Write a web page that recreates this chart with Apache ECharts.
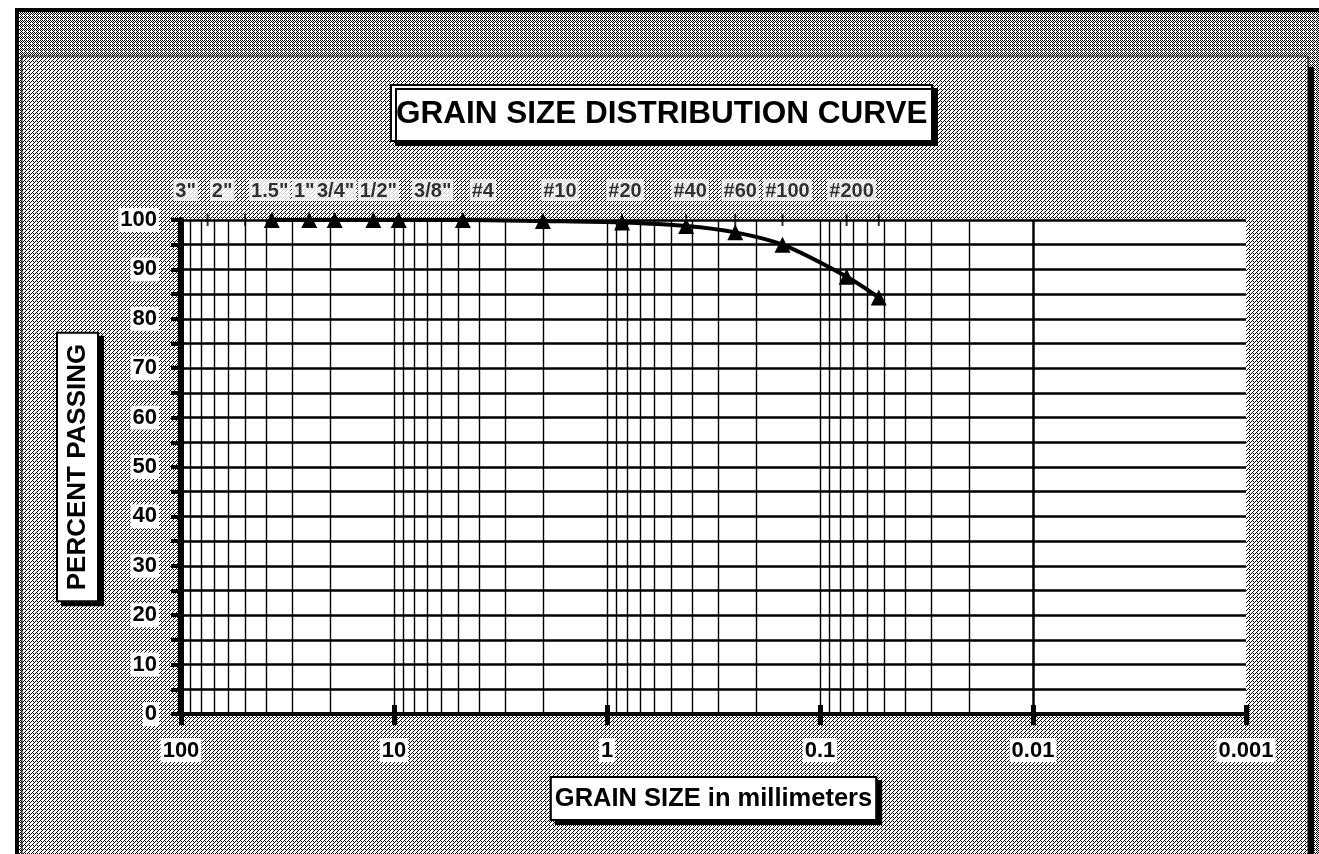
<!DOCTYPE html>
<html>
<head>
<meta charset="utf-8">
<script src="https://cdn.jsdelivr.net/npm/echarts@6/dist/echarts.min.js"></script>
<style>
html, body { margin: 0; padding: 0; background: #fff; }
#main { width: 1319px; height: 854px; }
</style>
</head>
<body>
<div id="main"></div>
<script>
// sieve openings (mm) with their names, shown along the top of the plot
var sieveNames = ['3"', '2"', '1.5"', '1"', '3/4"', '1/2"', '3/8"', '#4', '#10', '#20', '#40', '#60', '#100', '#200', ''];
var sieveSizes = [75, 50, 37.5, 25, 19, 12.5, 9.5, 4.75, 2.0, 0.85, 0.425, 0.25, 0.15, 0.075, 0.053];

// test results
var grainSizes = [37.5, 25, 19, 12.5, 9.5, 4.75, 2.0, 0.85, 0.425, 0.25, 0.15, 0.075, 0.053];
var percentPassing = [100, 100, 100, 100, 100, 100, 99.8, 99.5, 98.8, 97.5, 95.0, 88.5, 84.3];

// axis ticks
var decades = [100, 10, 1, 0.1, 0.01, 0.001];
var percentTicks = [0, 10, 20, 30, 40, 50, 60, 70, 80, 90, 100];

var FONT = '"Liberation Sans", Arial, sans-serif';

// sideways nudges so the sieve names don't run into each other
var nameShift = [-22, -23, -2, -5, 1, 5, 34, 20, 17, 3, 4, 5, 5, 5, 0];

// log paper lines: every 1..9 x 10^n
var gridValues = [100];
decades.slice(1).forEach(function (d) {
    for (var k = 1; k <= 9; k++) gridValues.push(+(k * d).toPrecision(3));
});

function dither(rows) {
    var n = rows.length;
    var c = document.createElement('canvas');
    c.width = n; c.height = n;
    var ctx = c.getContext('2d');
    ctx.fillStyle = '#fff';
    ctx.fillRect(0, 0, n, n);
    ctx.fillStyle = '#000';
    rows.forEach(function (r, y) {
        for (var x = 0; x < r.length; x++) if (r[x] === '1') ctx.fillRect(x, y, 1, 1);
    });
    return { image: c, repeat: 'repeat' };
}
var bandFill = dither(['1010', '0101', '1010', '0100']);
var panelFill = dither(['1000', '0101', '0010', '0100']);

var boxStyle = {
    fontFamily: FONT,
    fontWeight: 'bold',
    color: '#000',
    backgroundColor: '#fff',
    borderColor: '#000',
    borderWidth: 2,
    shadowColor: '#000',
    shadowBlur: 0,
    shadowOffsetX: 5,
    shadowOffsetY: 4
};

var tickLabel = {
    fontFamily: FONT,
    fontWeight: 'bold',
    fontSize: 22,
    color: '#000',
    backgroundColor: '#fff',
    padding: [2, 2, 0, 2]
};

var chartDom = document.getElementById('main');
var chart = echarts.init(chartDom);

var option = {
    animation: false,
    backgroundColor: '#fff',
    graphic: [
        { type: 'rect', z: -100, shape: { x: 17, y: 10, width: 1310, height: 850 },
          style: { fill: bandFill, stroke: '#000', lineWidth: 4 } },
        { type: 'rect', z: -99, shape: { x: 22, y: 56, width: 1286, height: 810 },
          style: { fill: panelFill, stroke: '#000', lineWidth: 1 } },
        { type: 'rect', z: -98, shape: { x: 1308, y: 67, width: 6, height: 800 },
          style: { fill: '#000' } }
    ],
    title: {
        text: 'GRAIN SIZE DISTRIBUTION CURVE',
        left: 391,
        top: 85,
        padding: [13, 5, 11, 5],
        backgroundColor: '#fff',
        borderColor: '#000',
        borderWidth: 2,
        shadowColor: '#000',
        shadowBlur: 0,
        shadowOffsetX: 5,
        shadowOffsetY: 4,
        textStyle: { fontFamily: FONT, fontWeight: 'bold', fontSize: 31.5, color: '#000' }
    },
    grid: {
        left: 181,
        right: 73,
        top: 220,
        bottom: 140,
        show: true,
        backgroundColor: '#fff',
        borderWidth: 0
    },
    xAxis: [{
        type: 'log',
        logBase: 10,
        min: 0.001,
        max: 100,
        inverse: true,
        position: 'bottom',
        axisLine: { show: true, onZero: false, lineStyle: { color: '#000', width: 4 } },
        axisTick: { show: true, length: 11, lineStyle: { color: '#000', width: 5 } },
        splitLine: { show: false },
        axisLabel: Object.assign({ margin: 24, formatter: function (v) {
            var i = decades.indexOf(+v.toPrecision(3));
            return i < 0 ? '' : String(decades[i]);
        } }, tickLabel),
        name: 'GRAIN SIZE in millimeters',
        nameLocation: 'middle',
        nameGap: 64,
        nameTextStyle: Object.assign({ fontSize: 25.5, padding: [8, 3, 7, 3] }, boxStyle)
    }, {
        type: 'log',
        logBase: 10,
        min: 0.001,
        max: 100,
        inverse: true,
        position: 'bottom',
        axisLine: { show: false },
        axisTick: { show: true, inside: true, length: 9, lineStyle: { color: '#000', width: 5 } },
        axisLabel: { show: false },
        splitLine: { show: false }
    }],
    yAxis: {
        type: 'value',
        min: percentTicks[0],
        max: percentTicks[percentTicks.length - 1],
        interval: 10,
        axisLine: { show: true, lineStyle: { color: '#000', width: 6 } },
        axisTick: { show: true, length: 10, lineStyle: { color: '#000', width: 4 } },
        minorTick: { show: true, splitNumber: 2, length: 10, lineStyle: { color: '#000', width: 4 } },
        splitLine: { show: true, lineStyle: { color: '#000', width: 2.5 } },
        minorSplitLine: { show: true, lineStyle: { color: '#000', width: 2.5 } },
        axisLabel: Object.assign({ margin: 22 }, tickLabel),
        name: 'PERCENT PASSING',
        nameLocation: 'middle',
        nameRotate: 90,
        nameGap: 84,
        nameTextStyle: Object.assign({ fontSize: 26, padding: [7, 10, 6, 10] }, boxStyle)
    },
    series: [{
        // vertical lines of the log paper
        type: 'line',
        z: 1,
        data: [],
        markLine: {
            silent: true,
            symbol: ['none', 'none'],
            label: { show: false },
            lineStyle: { color: '#000', width: 1.4, type: 'solid' },
            data: gridValues.map(function (v) { return { xAxis: v }; })
        }
    }, {
        // sieve marks along the top
        type: 'scatter',
        z: 3,
        symbol: 'rect',
        symbolSize: [2, 12],
        itemStyle: { color: '#000' },
        data: sieveSizes.map(function (s, i) {
            return {
                name: sieveNames[i],
                value: [s, 100],
                label: { offset: [nameShift[i], 0] }
            };
        }),
        label: {
            show: true,
            position: 'top',
            distance: 13,
            formatter: '{b}',
            fontFamily: FONT,
            fontWeight: 'bold',
            fontSize: 20,
            color: '#000',
            backgroundColor: '#fff',
            padding: [2, 2, 0, 2]
        }
    }, {
        type: 'line',
        z: 4,
        smooth: 0.35,
        symbol: 'triangle',
        symbolSize: 16,
        showAllSymbol: true,
        lineStyle: { color: '#000', width: 4 },
        itemStyle: { color: '#000' },
        data: grainSizes.map(function (s, i) { return [s, percentPassing[i]]; })
    }]
};

chart.setOption(option);
window.addEventListener('resize', () => chart.resize());
</script>
</body>
</html>
